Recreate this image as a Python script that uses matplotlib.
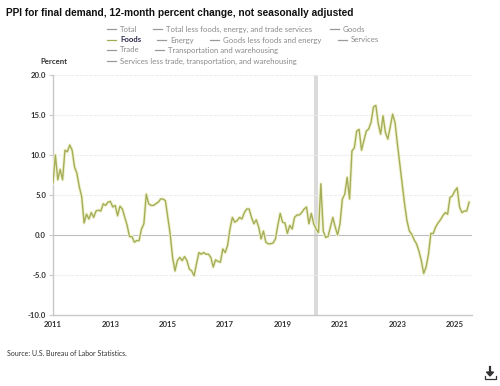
import matplotlib
matplotlib.use("Agg")
import matplotlib.pyplot as plt
from matplotlib.lines import Line2D
import numpy as np

# Foods, PPI final demand, 12-month percent change (Jan 2011 onward, monthly)
foods = [
    6.5, 10.0, 6.9, 8.2, 6.9, 10.6, 10.4, 11.25, 10.6, 8.5, 7.7, 6.0,
    4.8, 1.5, 2.6, 2.0, 2.8, 2.2, 3.0, 3.1, 3.0, 3.9, 3.7, 4.1,
    4.2, 3.5, 3.7, 2.4, 3.6, 3.25, 2.2, 1.2, -0.2, -0.2, -0.9, -0.7,
    -0.7, 0.75, 1.4, 5.1, 3.9, 3.7, 3.7, 3.9, 4.1, 4.5, 4.5, 4.3,
    2.2, 0.1, -2.8, -4.5, -3.2, -2.8, -3.2, -2.7, -3.2, -4.25, -4.5, -5.1,
    -3.6, -2.2, -2.4, -2.2, -2.4, -2.4, -2.8, -4.0, -3.1, -3.3, -3.4, -1.75,
    -2.2, -1.3, 0.75, 2.2, 1.6, 1.8, 2.2, 2.0, 2.8, 3.25, 3.25,
    2.2, 1.4, 1.9, 1.0, -0.5, 0.5, -0.9, -1.1, -1.1, -1.0,
    -0.5, 1.2, 2.7, 1.6, 1.5, 0.2, 1.2, 0.75, 2.2, 2.5,
    2.5, 2.8, 3.25, 3.5, 1.4, 2.7, 1.4, 0.75, 0.3, 6.4,
    0.5, -0.3, -0.2, 1.0, 2.2, 1.0, 0.0, 1.4, 4.5, 5.1,
    7.2, 4.5, 10.5, 10.9, 13.0, 13.2, 10.6, 11.8, 13.0, 13.25,
    14.1, 16.0, 16.2, 13.9, 12.6, 14.9, 12.8, 12.0, 13.5, 15.1,
    14.1, 11.4, 8.9, 6.4, 3.9, 1.8, 0.5, 0.1, -0.6, -1.1,
    -2.0, -3.2, -4.8, -4.0, -2.4, 0.2, 0.2, 1.0, 1.5,
    1.9, 2.4, 2.8, 2.6, 4.7, 4.9, 5.5, 5.9, 3.5, 2.8,
    3.0, 3.0, 4.1,
]
start_year = 2011
x_ticks = [2011, 2013, 2015, 2017, 2019, 2021, 2023, 2025]
y_ticks = [-10, -5, 0, 5, 10, 15, 20]
recession = (2020 + 1 / 12, 2020 + 3 / 12)

legend_rows = [
    ["Total", "Total less foods, energy, and trade services", "Goods"],
    ["Foods", "Energy", "Goods less foods and energy", "Services"],
    ["Trade", "Transportation and warehousing"],
    ["Services less trade, transportation, and warehousing"],
]
legend_x = [
    [107, 153, 330],
    [107, 157, 210, 338],
    [107, 155],
    [107],
]

W, H = 500, 386
fig = plt.figure(figsize=(W / 100, H / 100), dpi=100)
fig.patch.set_facecolor("white")

def fx(px):
    return px / W

def fy(py):
    return 1 - py / H

ax = fig.add_axes([fx(53), fy(315), fx(472) - fx(53), fy(75) - fy(315)])
xs = start_year + np.arange(len(foods)) / 12.0
line_color = "#a6ad58"
ax.axvspan(recession[0], recession[1], color="#dadada", lw=0, zorder=1)
ax.plot(xs, foods, color="#f0f3d0", lw=2.4, zorder=3, solid_joinstyle="round")
ax.plot(xs, foods, color=line_color, lw=1.0, zorder=4, solid_joinstyle="round")
ax.set_xlim(2011, 2025.6)
ax.set_ylim(-10, 20)
ax.set_yticks(y_ticks)
ax.set_yticklabels([f"{v:.1f}" for v in y_ticks])
ax.set_xticks(x_ticks)
ax.set_xticklabels([str(v) for v in x_ticks])
for v in y_ticks:
    if v == 0:
        ax.axhline(v, color="#bdbdbd", lw=0.8, zorder=2)
    elif v != -10:
        ax.axhline(v, color="#eeeeee", lw=0.8, ls=(0, (3, 1)), zorder=2)
for s in ["top", "right"]:
    ax.spines[s].set_visible(False)
ax.spines["left"].set_color("#c8c8c8")
ax.spines["bottom"].set_color("#c8c8c8")
ax.spines["left"].set_linewidth(1.0)
ax.spines["bottom"].set_linewidth(1.0)
ax.tick_params(axis="y", length=3, color="#c8c8c8", labelsize=5.6, labelcolor="#333333", pad=2)
ax.tick_params(axis="x", length=0, labelsize=5.6, labelcolor="#333333", pad=4)
for lab in ax.get_xticklabels() + ax.get_yticklabels():
    lab.set_fontfamily("Lato")
    lab.set_fontweight("bold")

fig.text(fx(6), fy(13), "PPI for final demand, 12-month percent change, not seasonally adjusted",
         fontsize=7.3, fontweight="bold", family="Liberation Sans", color="#111111", va="center")

row_y = [29, 40, 50, 61]
for r, (labels, xsr) in enumerate(zip(legend_rows, legend_x)):
    y = fy(row_y[r])
    for lab, px in zip(labels, xsr):
        is_food = lab == "Foods"
        fig.add_artist(Line2D([fx(px), fx(px + 9)], [y, y], color=line_color if is_food else "#9a9a9a",
                              lw=0.9, transform=fig.transFigure))
        fig.text(fx(px + 13), y, lab, fontsize=5.6, family="Lato", va="center",
                 color="#2a2a4a" if is_food else "#8a8a8a",
                 fontweight="bold" if is_food else "normal")

fig.text(fx(54), fy(61), "Percent", fontsize=5.6, family="Lato", fontweight="bold",
         color="#333333", va="center", ha="center")

fig.text(fx(7), fy(353), "Source: U.S. Bureau of Labor Statistics.", fontsize=5.0, family="Lato",
         color="#333333", va="center")

# download icon
ic = "#333333"
fig.add_artist(Line2D([fx(490), fx(490)], [fy(367), fy(373)], color=ic, lw=1.6, transform=fig.transFigure))
fig.add_artist(plt.Polygon([[fx(486.5), fy(372)], [fx(493.5), fy(372)], [fx(490), fy(376)]],
                           closed=True, color=ic, transform=fig.transFigure))
fig.add_artist(Line2D([fx(484.5), fx(484.5), fx(495.5), fx(495.5)], [fy(376), fy(379), fy(379), fy(376)],
                      color=ic, lw=0.9, transform=fig.transFigure))

fig.savefig("out.png", dpi=100, facecolor="white")
